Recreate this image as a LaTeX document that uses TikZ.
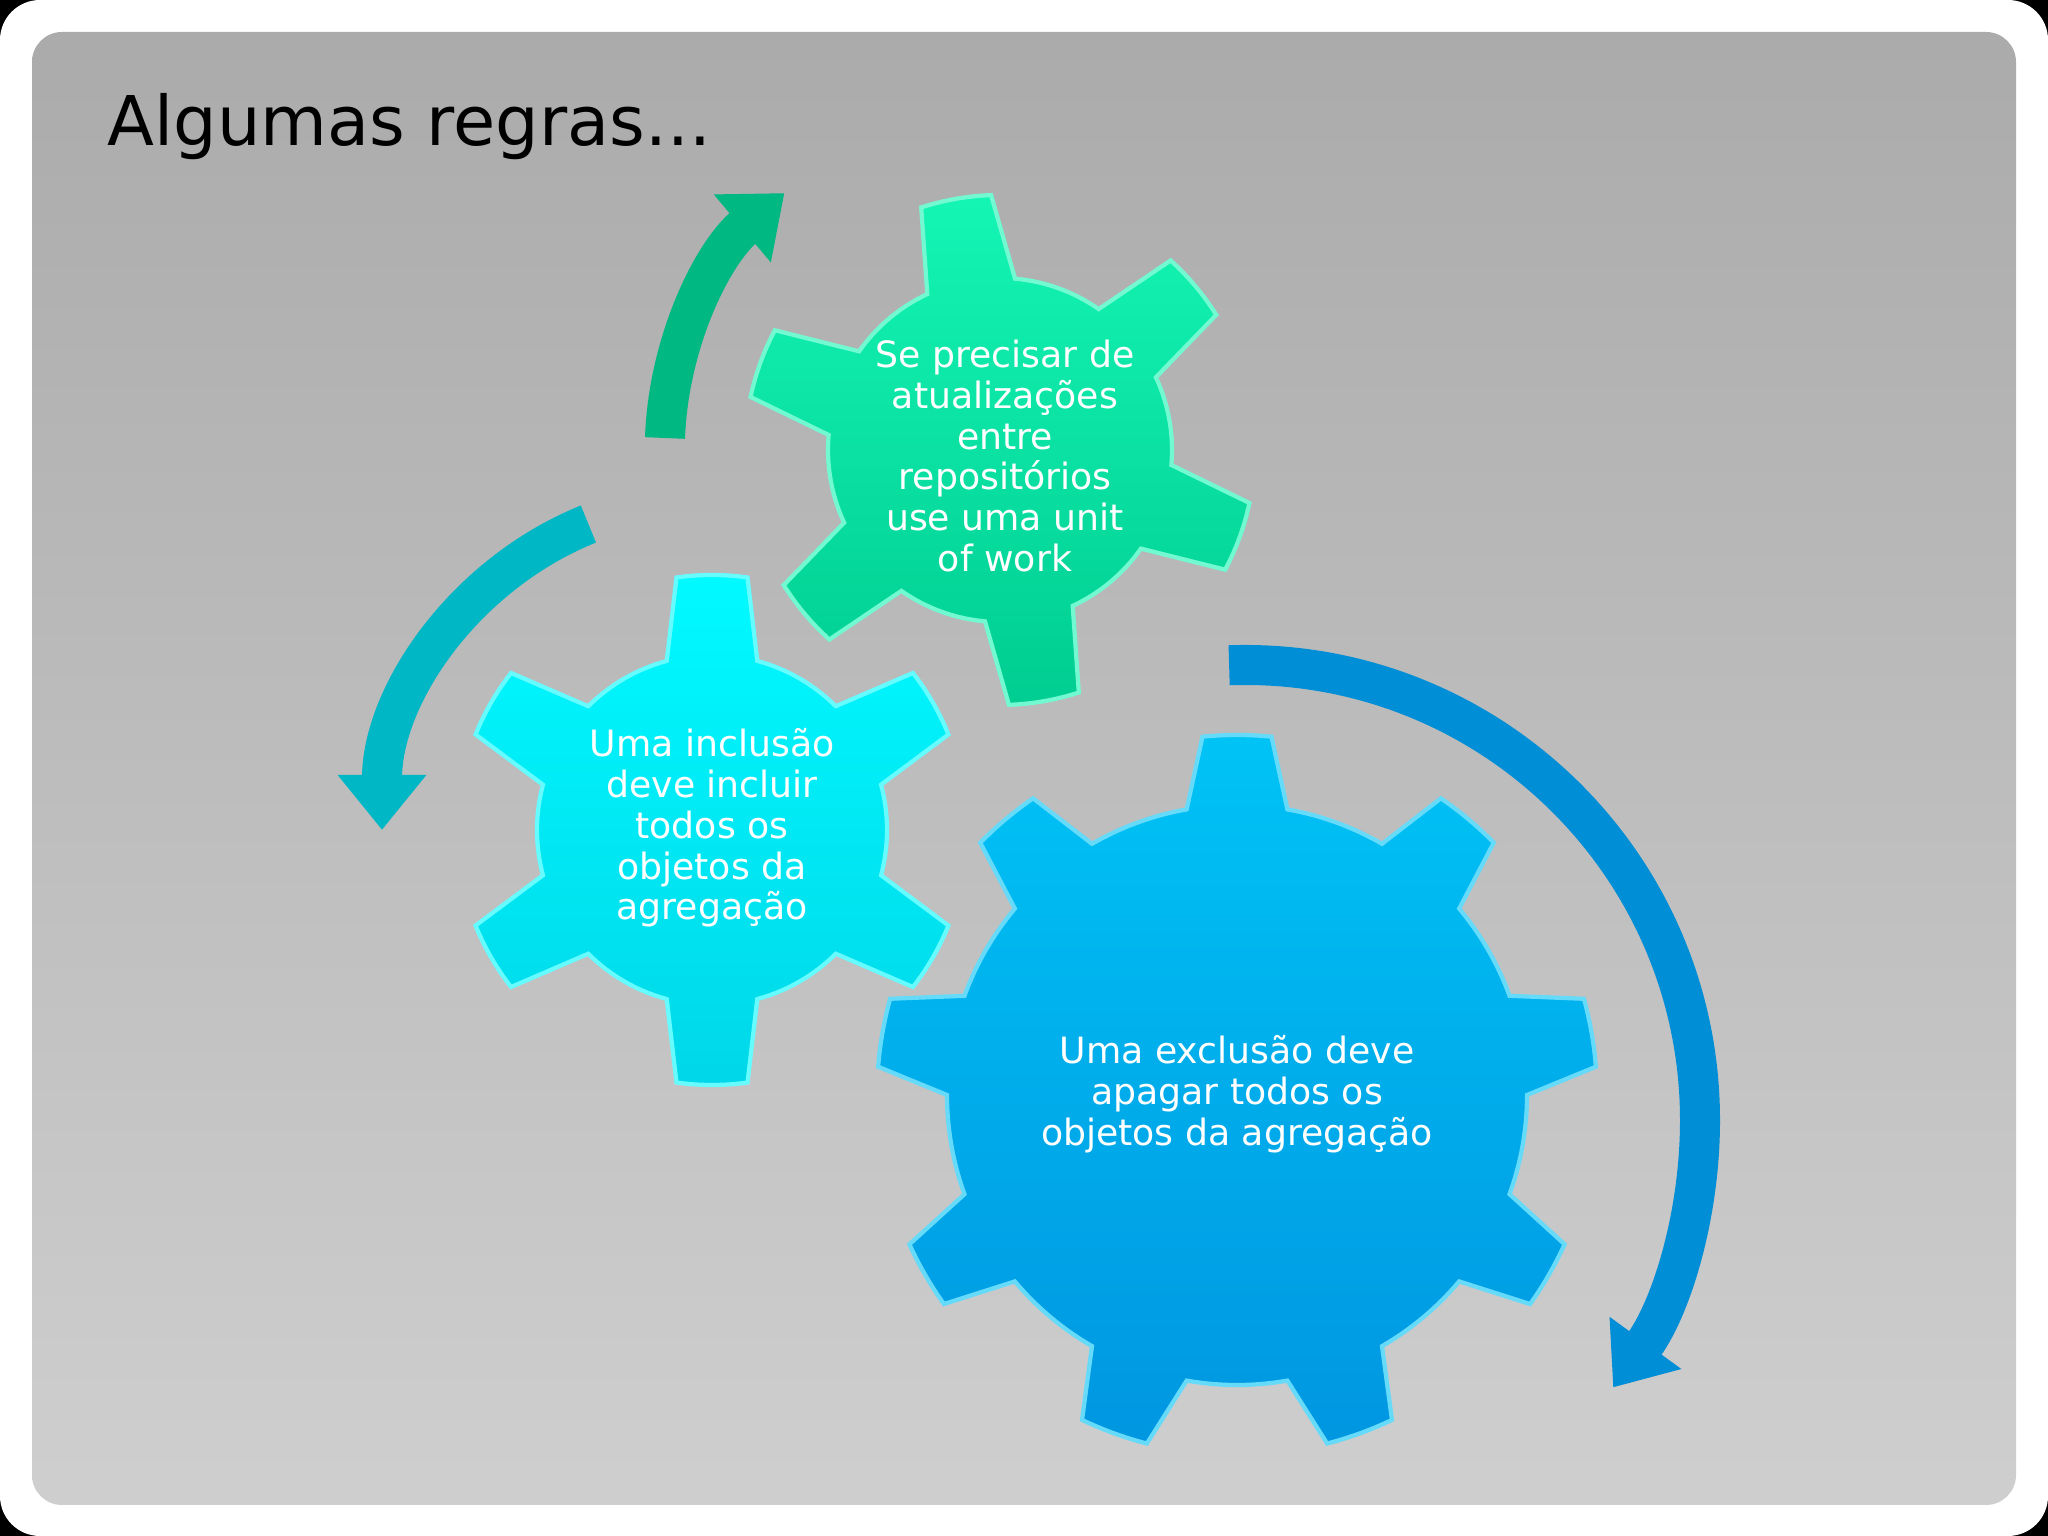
\documentclass[tikz,border=0pt]{standalone}
\usepackage{fontspec}
\setmainfont{DejaVu Sans}
\usetikzlibrary{arrows.meta}
\definecolor{gA}{RGB}{0,205,145}
\definecolor{gB}{RGB}{20,245,180}
\definecolor{cA}{RGB}{0,215,232}
\definecolor{cB}{RGB}{0,250,255}
\definecolor{bA}{RGB}{0,150,225}
\definecolor{bB}{RGB}{0,195,245}
\tikzset{
  geartxt/.style={text=white,align=center,font=\fontsize{10.3}{11.6}\selectfont},
  bigarrow/.style={line width=0.4cm,-{Triangle[width=0.85cm,length=0.55cm]}}
}
\newcommand{\mygear}[9]{% cx cy n off Rb Ro db dt style
  \begin{scope}[shift={(#1,#2)}]
  \path[#9] ({#4-#7}:#5)
  \foreach \i [evaluate=\i as \t using #4+\i*360/#3] in {0,...,\numexpr#3-1\relax}{
    -- ({\t-#7}:#5) -- ({\t-#8}:#6) arc[start angle={\t-#8},end angle={\t+#8},radius=#6]
    -- ({\t+#7}:#5) arc[start angle={\t+#7},end angle={\t+360/#3-#7},radius=#5]
  } -- cycle;
  \end{scope}}
\begin{document}
\begin{tikzpicture}[x=0.01cm,y=0.01cm]
\fill[black] (0,0) rectangle (2048,1536);
\fill[white,rounded corners=0.4cm] (0,0) rectangle (2048,1536);
\shade[top color=black!33,bottom color=black!19,rounded corners=0.3cm] (32,31) rectangle (2016,1504);
\node[anchor=base west,inner sep=0pt,font=\fontsize{19.5}{22}\selectfont] (title) at (107,1390) {Algumas regras...};
% arrows
\draw[bigarrow,color=gA!90!black] (665,1098) arc[start angle=178,end angle=130,radius=335];
\draw[bigarrow,color=cA!85!black] ({712+330*cos(112)},{706+330*sin(112)}) arc[start angle=112,end angle=180,radius=330];
\draw[bigarrow,color=bA!95!black] ({1245+455*cos(92)},{416+455*sin(92)}) arc[start angle=92,end angle=-36,radius=455];
% gears
\mygear{1000}{1086}{6}{100}{172}{255}{15}{8}{top color=gB,bottom color=gA,draw=gB!60!white,line width=1.2pt}
\mygear{712}{706}{6}{90}{175}{255}{15}{8}{top color=cB,bottom color=cA,draw=cB!60!white,line width=1.2pt}
\mygear{1237}{441}{9}{90}{290}{360}{10}{5.5}{top color=bB,bottom color=bA,draw=bB!60!white,line width=1.2pt}
\node[geartxt] (t1) at (1005,1080) {Se precisar de\\atualizações\\entre\\repositórios\\use uma unit\\of work};
\node[geartxt] (t2) at (712,708) {Uma inclusão\\deve incluir\\todos os\\objetos da\\agregação};
\node[geartxt] (t3) at (1237,442) {Uma exclusão deve\\apagar todos os\\objetos da agregação};
\end{tikzpicture}
\end{document}
